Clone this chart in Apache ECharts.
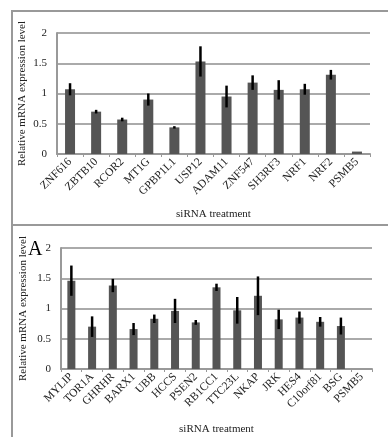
<!DOCTYPE html>
<html><head><meta charset="utf-8">
<script src="https://cdn.jsdelivr.net/npm/echarts@6/dist/echarts.min.js"></script>
<style>html,body{margin:0;padding:0;background:#fff}#c{width:388px;height:437px}</style>
</head><body><div id="c"></div>
<script>
const topCats = ['ZNF616','ZBTB10','RCOR2','MT1G','GPBP1L1','USP12','ADAM11','ZNF547','SH3RF3','NRF1','NRF2','PSMB5'];
const topVals = [1.07,0.70,0.57,0.90,0.44,1.53,0.95,1.18,1.06,1.07,1.31,0.04];
const topErr  = [0.10,0.03,0.03,0.10,0.02,0.25,0.18,0.12,0.16,0.09,0.08,0];
const botCats = ['MYLIP','TOR1A','GHRHR','BARX1','UBB','HCCS','PSEN2','RB1CC1','TTC23L','NKAP','JRK','HES4','C10orf81','BSG','PSMB5'];
const botVals = [1.46,0.70,1.38,0.66,0.83,0.96,0.77,1.35,0.97,1.21,0.82,0.85,0.78,0.71,0];
const botErr  = [0.25,0.17,0.11,0.10,0.07,0.20,0.04,0.06,0.22,0.32,0.16,0.10,0.08,0.14,0];
const yTicks = [0,0.5,1,1.5,2];

const font = 'Liberation Serif';
const chart = echarts.init(document.getElementById('c'));
function errSeries(idx, vals, errs){
  return {
    type:'custom', xAxisIndex:idx, yAxisIndex:idx, z:5,
    data: vals.map((v,i)=>[i, v-errs[i], v+errs[i]]),
    renderItem:(params, api)=>{
      if (api.value(2) - api.value(1) <= 0) return;
      const a = api.coord([api.value(0), api.value(1)]);
      const b = api.coord([api.value(0), api.value(2)]);
      return {type:'line', shape:{x1:a[0],y1:a[1],x2:b[0],y2:b[1]}, style:{stroke:'#000', lineWidth:2.5}};
    }
  };
}
function xAx(idx, cats){
  return {type:'category', gridIndex:idx, data:cats,
    axisLine:{lineStyle:{color:'#999', width:2}},
    axisTick:{show:true, length:3, lineStyle:{color:'#999'}},
    axisLabel:{rotate:45, fontFamily:font, fontSize:11.5, color:'#222', margin:6, interval:0},
    name:'siRNA treatment', nameLocation:'middle', nameGap:55, nameMoveOverlap:false,
    nameTextStyle:{fontFamily:font, fontSize:11, color:'#222'}};
}
function yAx(idx){
  return {type:'value', gridIndex:idx, min:0, max:2, interval:0.5,
    axisLine:{show:true, lineStyle:{color:'#999', width:2}},
    axisTick:{show:false},
    splitLine:{lineStyle:{color:'#aaa', width:2}},
    axisLabel:{fontFamily:font, fontSize:11, color:'#222', margin:10,
      formatter:v=> yTicks.includes(v) ? String(v) : ''},
    name:'Relative mRNA expression level', nameLocation:'middle', nameGap: idx===0?29:32,
    nameMoveOverlap:false,
    nameTextStyle:{fontFamily:font, fontSize:11, color:'#222'}};
}
chart.setOption({
  animation:false,
  grid:[{left:57, right:18, top:33, bottom:283},{left:61, right:16, top:248, bottom:68}],
  xAxis:[xAx(0, topCats), xAx(1, botCats)],
  yAxis:[yAx(0), yAx(1)],
  series:[
    {type:'bar', xAxisIndex:0, yAxisIndex:0, data:topVals, barWidth:10, itemStyle:{color:'#555'}},
    errSeries(0, topVals, topErr),
    {type:'bar', xAxisIndex:1, yAxisIndex:1, data:botVals, barWidth:8, itemStyle:{color:'#555'}},
    errSeries(1, botVals, botErr)
  ],
  graphic:[
    {type:'line', shape:{x1:12,y1:10,x2:12,y2:437}, style:{stroke:'#999', lineWidth:2}},
    {type:'line', shape:{x1:12,y1:11,x2:388,y2:11}, style:{stroke:'#999', lineWidth:2}},
    {type:'line', shape:{x1:12,y1:225,x2:388,y2:225}, style:{stroke:'#999', lineWidth:2}},
    {type:'text', left:28, top:240, style:{text:'A', fontFamily:font, fontSize:20, fill:'#000'}}
  ]
});
</script></body></html>
